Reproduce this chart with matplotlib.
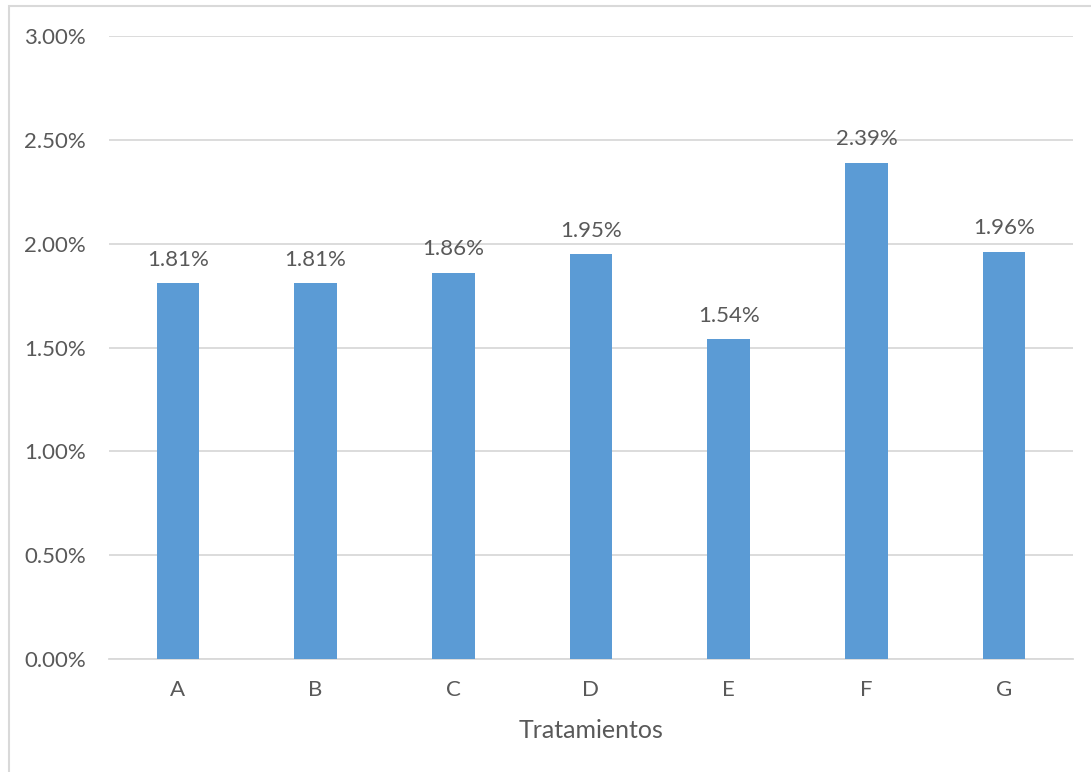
import matplotlib.pyplot as plt
from matplotlib.patches import Rectangle
from matplotlib.ticker import FuncFormatter

categories = ["A", "B", "C", "D", "E", "F", "G"]
values = [1.81, 1.81, 1.86, 1.95, 1.54, 2.39, 1.96]
x_title = "Tratamientos"

BAR = "#5B9BD5"
TXT = "#595959"
GRID = "#D9D9D9"

plt.rcParams['font.family'] = ['Lato', 'DejaVu Sans']

W, H = 1091, 772
fig = plt.figure(figsize=(W / 100, H / 100), dpi=100)
ax = fig.add_axes([109 / W, 1 - 659 / H, (1073 - 109) / W, (659 - 36) / H])

# outer chart frame
fig.patches.append(Rectangle((9 / W, -0.05), 1.1, 1 - 6 / H + 0.05,
                             transform=fig.transFigure, fill=False,
                             edgecolor=GRID, linewidth=1.5))

pos = range(len(categories))
ax.bar(pos, values, width=0.31, color=BAR, zorder=3)
for p, v in zip(pos, values):
    ax.text(p, v + 0.065, f"{v:.2f}%", ha="center", va="bottom",
            fontsize=16, color=TXT)

ax.set_xlim(-0.5, len(categories) - 0.5)
ax.set_ylim(0, 3.0)
ax.set_yticks([0, 0.5, 1.0, 1.5, 2.0, 2.5, 3.0])
ax.yaxis.set_major_formatter(FuncFormatter(lambda v, _: f"{v:.2f}%"))
ax.set_xticks(list(pos))
ax.set_xticklabels(categories)
ax.tick_params(axis="both", length=0, labelsize=16, labelcolor=TXT)
ax.tick_params(axis="y", pad=16.5)
ax.tick_params(axis="x", pad=15)
ax.grid(axis="y", color=GRID, linewidth=1.3, zorder=0)
for s in ["top", "right", "left"]:
    ax.spines[s].set_visible(False)
ax.spines["bottom"].set_color(GRID)
ax.spines["bottom"].set_linewidth(1.3)
ax.set_xlabel(x_title, fontsize=18, color=TXT, labelpad=14)

fig.savefig("out.png", dpi=100)
